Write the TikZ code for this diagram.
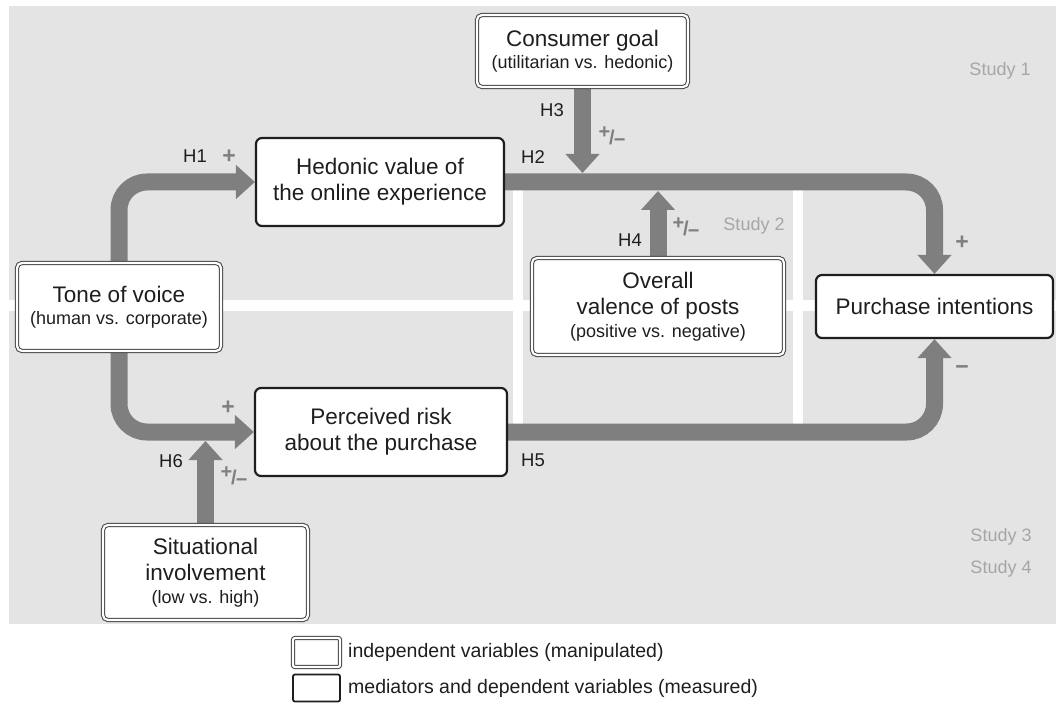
\documentclass[tikz,border=0pt]{standalone}
\usepackage{fontspec}
\setmainfont{Liberation Sans}
\usepackage{graphicx}
\usetikzlibrary{arrows.meta,calc}
\definecolor{bggray}{HTML}{E4E4E4}
\definecolor{bargray}{HTML}{7F7F7F}
\definecolor{studygray}{HTML}{A6A6A6}
\definecolor{ink}{HTML}{1E1E1E}
\pgfdeclarelayer{bg}
\pgfdeclarelayer{bars}
\pgfsetlayers{bg,bars,main}
\newcommand{\pmslash}{\raisebox{.3em}{+}\kern-.05em/\kern-.05em\raisebox{-.1em}{−}}
\newcommand{\subf}{\fontsize{18}{22}\selectfont}
\begin{document}
\begin{tikzpicture}[x=1pt,y=-1pt,
  measured/.style={draw=ink, line width=2.2pt, rounded corners=6pt, fill=white, inner sep=0pt, align=center, text=ink, font=\fontsize{22.5}{26}\selectfont},
  manip/.style={draw=ink!85, double=white, double distance=2.2pt, line width=1pt, rounded corners=5pt, fill=white, inner sep=0pt, align=center, text=ink, font=\fontsize{22.5}{26}\selectfont},
  bar/.style={draw=bargray, line width=17pt, -{Triangle[length=19pt,width=33pt]}},
  hlab/.style={text=ink, font=\fontsize{18.5}{20}\selectfont, inner sep=0pt},
  sign/.style={text=bargray, font=\bfseries\fontsize{23}{23}\selectfont, inner sep=0pt},
  pmsign/.style={text=bargray, font=\bfseries\fontsize{20}{20}\selectfont, inner sep=0pt},
  study/.style={text=studygray, font=\fontsize{18}{20}\selectfont, inner sep=0pt},
  legtext/.style={text=ink, font=\fontsize{19.5}{22}\selectfont, inner sep=0pt, anchor=west},
]
\useasboundingbox (0,0) rectangle (1056,703);

% background panels
\begin{pgfonlayer}{bg}
\fill[bggray] (9,6) rectangle (1056,624);
\fill[white] (9,300) rectangle (1056,311);
\fill[white] (513,185) rectangle (523,430);
\fill[white] (793,185) rectangle (803,430);
\end{pgfonlayer}

% nodes
\node[manip, minimum width=211pt, minimum height=72pt] (consumer) at (582.5,51)
  {Consumer goal\\[-4pt]\subf(utilitarian vs. hedonic)};
\node[measured, minimum width=248pt, minimum height=88pt] (hedonic) at (380,182)
  {Hedonic value of\\the online experience};
\node[manip, minimum width=204pt, minimum height=88pt] (tone) at (119,307)
  {Tone of voice\\[-4pt]\subf(human vs. corporate)};
\node[measured, minimum width=252pt, minimum height=88pt] (risk) at (381,432)
  {Perceived risk\\about the purchase};
\node[manip, minimum width=205pt, minimum height=95pt] (situational) at (205.5,572.5)
  {Situational\\involvement\\[-3pt]\subf(low vs. high)};
\node[manip, minimum width=252pt, minimum height=97pt] (overall) at (658,306.5)
  {Overall\\valence of posts\\[-3pt]\subf(positive vs. negative)};
\node[measured, minimum width=237pt, minimum height=63pt] (purchase) at (934.5,306.5)
  {Purchase intentions};

\coordinate (h3tip) at (582.5,173);
\coordinate (h4tip) at (658,191);
\coordinate (h6tip) at (205.5,441);

% connectors
\begin{pgfonlayer}{bars}
\draw[bar, rounded corners=28pt] (tone.north) |- (hedonic.west);
\draw[bar, rounded corners=28pt] (tone.south) |- (risk.west);
\draw[bar, rounded corners=28pt] (hedonic.east) -| (purchase.north);
\draw[bar, rounded corners=28pt] (risk.east) -| (purchase.south);
\draw[bar] (consumer.south) -- (h3tip);
\draw[bar] (overall.north) -- (h4tip);
\draw[bar] (situational.north) -- (h6tip);
\end{pgfonlayer}

% labels
\node[hlab] (h1) at (195,156) {H1};
\node[sign] (s1) at (229,157) {+};
\node[hlab] (h2) at (533,157) {H2};
\node[hlab] (h3) at (552,110) {H3};
\node[pmsign] (pm3) at (612,137) {\pmslash};
\node[hlab] (h4) at (630,240) {H4};
\node[pmsign] (pm4) at (686,228) {\pmslash};
\node[sign] (s2) at (962,243) {+};
\node[sign] (s3) at (962,370) {−};
\node[sign] (s4) at (228,408) {+};
\node[hlab] (h6) at (171,461) {H6};
\node[pmsign] (pm6) at (234,477) {\pmslash};
\node[hlab] (h5) at (533,460) {H5};

\node[study] (st1) at (1000,71) {Study 1};
\node[study] (st2) at (754,226) {Study 2};
\node[study] (st3) at (1001,537) {Study 3};
\node[study] (st4) at (1001,569) {Study 4};

% legend
\node[manip, minimum width=47pt, minimum height=29pt, rounded corners=2pt] (leg1) at (316.5,652.5) {};
\node[measured, minimum width=47pt, minimum height=27pt, rounded corners=2pt, line width=1.8pt] (leg2) at (316.5,688) {};
\node[legtext] (legt1) at (348,652.5) {independent variables (manipulated)};
\node[legtext] (legt2) at (348,688) {mediators and dependent variables (measured)};
\end{tikzpicture}
\end{document}
